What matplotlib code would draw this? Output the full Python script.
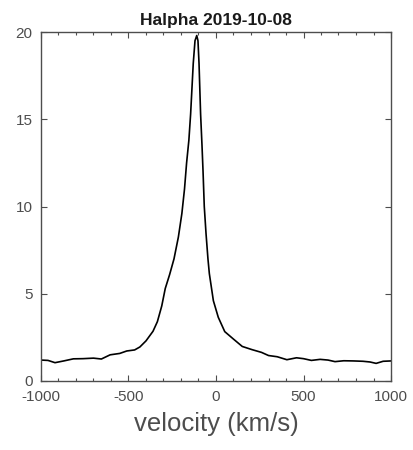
import matplotlib
matplotlib.use("Agg")
import matplotlib.pyplot as plt
from matplotlib.ticker import MultipleLocator

velocity = [-1000, -960, -920, -870, -815, -760, -700, -655, -605, -550, -510, -465,
            -435, -400, -360, -335, -310, -290, -265, -240, -215, -195, -180, -168,
            -155, -145, -130, -120, -110, -103, -97, -88, -80, -74, -67, -57, -46,
            -38, -15, 13, 50, 100, 150, 205, 260, 300, 350, 405, 460, 500, 545, 595,
            640, 680, 730, 785, 840, 880, 915, 955, 1000]
flux = [1.20, 1.18, 1.05, 1.15, 1.27, 1.28, 1.31, 1.26, 1.50, 1.58, 1.72, 1.78,
        1.95, 2.30, 2.85, 3.40, 4.30, 5.30, 6.10, 7.00, 8.25, 9.6, 11.0, 12.5,
        13.8, 15.3, 18.2, 19.5, 19.8, 19.5, 18.2, 15.3, 13.5, 12.0, 10.0, 8.45, 7.0,
        6.15, 4.6, 3.65, 2.83, 2.40, 1.98, 1.80, 1.64, 1.46, 1.39, 1.22, 1.33, 1.28,
        1.18, 1.24, 1.20, 1.11, 1.16, 1.15, 1.13, 1.09, 1.01, 1.13, 1.15]
xticks = [-1000, -500, 0, 500, 1000]
yticks = [0, 5, 10, 15, 20]

plt.rcParams['font.family'] = ['Liberation Sans', 'DejaVu Sans']
plt.rcParams['axes.unicode_minus'] = False

fig = plt.figure(figsize=(4.14, 4.5), dpi=100)
ax = fig.add_axes([41/414, 1-381/450, 350/414, 349/450])
ax.plot(velocity, flux, color='black', lw=1.2)
ax.set_xlim(-1000, 1000)
ax.set_ylim(0, 20)
ax.set_xticks(xticks)
ax.set_yticks(yticks)
ax.xaxis.set_minor_locator(MultipleLocator(100))
gray = '#4d4d4d'
ax.tick_params(which='both', direction='in', top=True, right=True,
               colors=gray, labelsize=11, width=0.8)
ax.tick_params(which='major', length=4)
ax.tick_params(which='minor', length=2.5)
ax.tick_params(axis='x', pad=6.5)
ax.tick_params(axis='y', pad=6)
for s in ax.spines.values():
    s.set_color(gray)
    s.set_linewidth(1.0)
ax.set_xlabel('velocity (km/s)', fontsize=18.5, color=gray, labelpad=6)
ax.set_title('Halpha 2019-10-08', fontsize=12.5, fontweight='bold', color='#1a1a1a', pad=5)
fig.savefig('out.png', dpi=100)
